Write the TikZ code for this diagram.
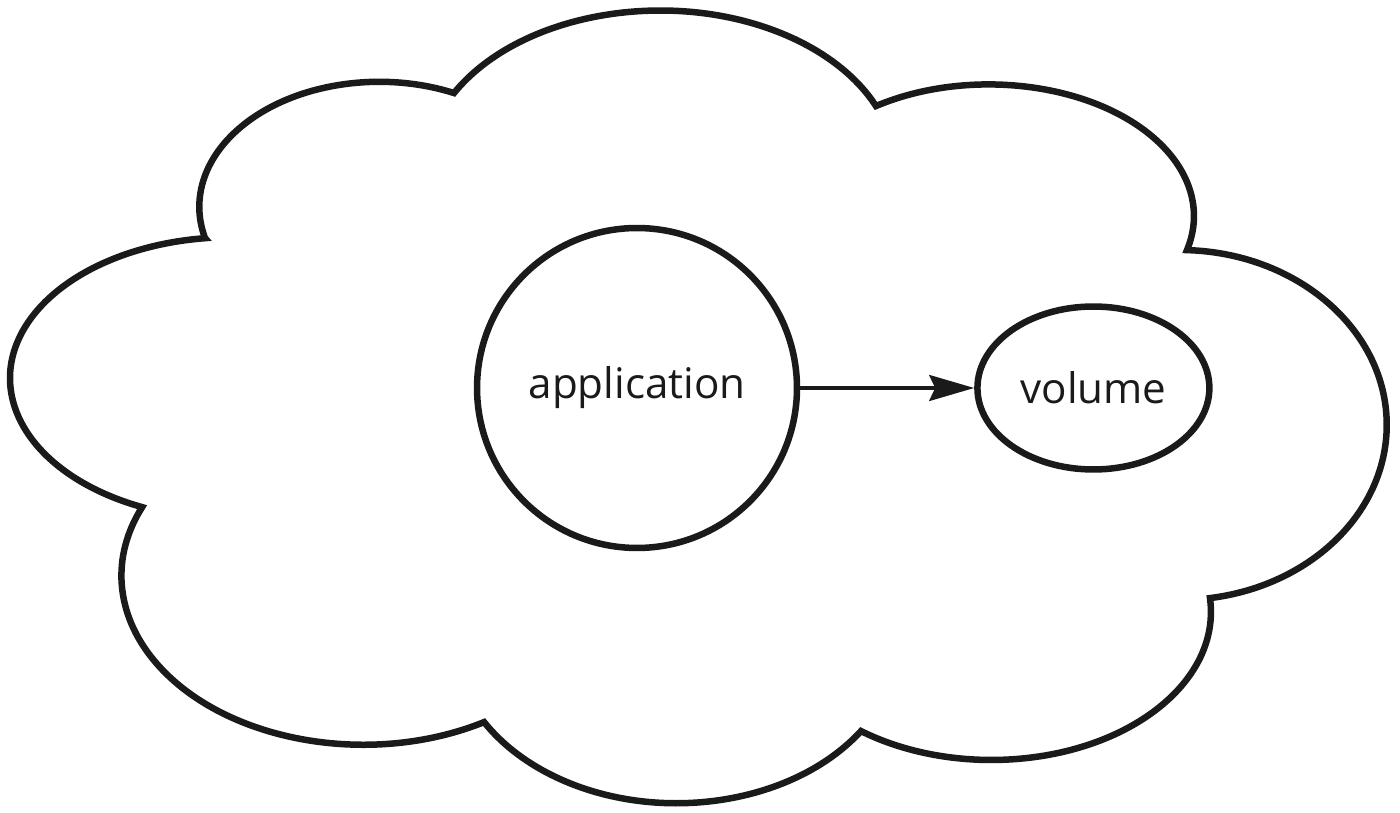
\documentclass[tikz,border=0pt]{standalone}
\usepackage{fontspec}
\setmainfont{Open Sans}
\usetikzlibrary{arrows.meta}
\usetikzlibrary{shapes.geometric}
\usetikzlibrary{positioning}
\definecolor{inkdark}{HTML}{1A1A1A}
\tikzset{
  cloudline/.style={draw=inkdark, line width=0.13cm, line join=miter},
  appnode/.style={circle, draw=inkdark, line width=0.13cm, minimum size=6.4cm,
    text=inkdark, font=\fontsize{24}{28}\selectfont},
  volnode/.style={ellipse, draw=inkdark, line width=0.13cm, minimum width=4.64cm,
    minimum height=3.26cm, text=inkdark, font=\fontsize{24}{28}\selectfont},
  flow/.style={draw=inkdark, line width=0.066cm,
    -{Stealth[length=0.9cm, width=0.52cm, inset=0.12cm]}}
}

\begin{document}
\begin{tikzpicture}[x=0.02cm, y=-0.02cm]
\useasboundingbox (0,0) rectangle (1400,813);
% cloud outline, one arc per lobe
\draw[cloudline] (205,238) arc[start angle=165.6, end angle=294.5, x radius=180, y radius=125.1]
  arc[start angle=208.9, end angle=336.3, x radius=235.6, y radius=159.7]
  arc[start angle=236.7, end angle=375, x radius=205.3, y radius=131.6]
  arc[start angle=-88, end angle=81.6, x radius=207, y radius=175]
  arc[start angle=-5.3, end angle=126.4, x radius=219.6, y radius=148.2]
  arc[start angle=34.2, end angle=149.5, x radius=223.2, y radius=164.8]
  arc[start angle=60, end angle=203.9, x radius=241.8, y radius=169.1]
  arc[start angle=113.7, end angle=263.3, x radius=220.9, y radius=140.9]
  -- cycle;
% nodes
\node[appnode] (app) at (637,388) {application};
\node[volnode, right=3.48cm of app] (vol) {volume};
\draw[flow] (app) -- (vol);
\end{tikzpicture}
\end{document}
